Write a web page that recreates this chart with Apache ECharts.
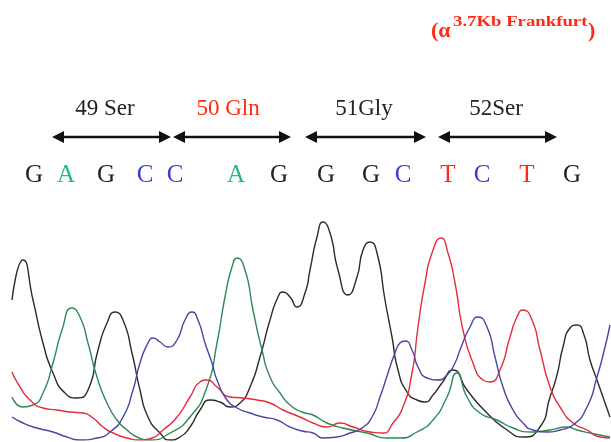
<!DOCTYPE html>
<html>
<head>
<meta charset="utf-8">
<script src="https://cdn.jsdelivr.net/npm/echarts@6/dist/echarts.min.js"></script>
<style>
html,body{margin:0;padding:0;background:#fff;}
#chart{width:611px;height:442px;}
</style>
</head>
<body>
<div id="chart"></div>
<script>
// ---- data: [scan position, signal intensity] ----
var traceG = [[12,140],[23,180],[33,140],[43,97],[53,67],[65,47],[77,42],[88,50],[98,90],[107,117],[115,128],[123,120],[132,87],[140,50],[148,23],[160,7],[170,0],[180,3],[190,13],[200,30],[210,40],[220,38],[230,33],[240,37],[250,53],[260,83],[270,120],[278,143],[283,148],[290,143],[297,133],[305,147],[310,170],[317,203],[323,218],[330,207],[338,170],[348,145],[357,163],[363,190],[370,198],[377,187],[385,140],[392,103],[398,70],[407,48],[417,40],[425,38],[433,45],[442,57],[453,70],[467,50],[487,27],[507,10],[523,3],[540,13],[550,43],[557,65],[563,93],[570,112],[577,115],[584,105],[590,80],[597,60],[604,40],[610,23]];
var traceA = [[12,43],[23,33],[33,35],[43,47],[53,77],[62,110],[72,132],[80,123],[88,97],[97,63],[107,37],[117,20],[127,10],[137,3],[150,0],[170,7],[190,23],[207,53],[217,97],[225,143],[232,173],[237,182],[245,170],[253,130],[262,90],[270,63],[280,47],[290,35],[302,28],[313,25],[327,17],[343,12],[367,7],[387,2],[400,2],[417,8],[433,20],[447,43],[457,67],[467,43],[480,27],[497,20],[513,12],[530,8],[550,10],[567,13],[577,10],[590,7],[610,3]];
var traceT = [[12,68],[20,53],[30,40],[43,32],[57,30],[70,28],[83,27],[93,22],[103,13],[113,7],[127,2],[140,0],[152,2],[163,10],[177,23],[190,43],[200,58],[207,60],[217,53],[230,43],[243,42],[257,40],[270,37],[283,30],[300,23],[313,17],[327,13],[340,17],[353,13],[370,8],[383,7],[393,17],[403,33],[412,67],[418,113],[425,157],[432,187],[441,202],[448,187],[455,157],[463,110],[473,77],[483,60],[490,58],[500,70],[510,103],[517,123],[523,130],[532,120],[540,90],[550,53],[560,33],[573,17],[587,10],[600,3],[610,2]];
var traceC = [[12,23],[23,17],[37,12],[53,8],[67,3],[80,0],[97,2],[110,8],[123,23],[133,50],[140,77],[148,97],[153,102],[160,98],[168,93],[177,100],[185,120],[192,128],[198,120],[205,97],[212,77],[217,60],[227,40],[237,32],[250,27],[263,23],[277,20],[290,13],[302,9],[313,7],[323,2],[337,3],[350,7],[362,12],[372,23],[380,43],[388,67],[395,87],[400,97],[405,99],[412,90],[418,73],[427,62],[437,60],[447,65],[455,77],[460,90],[470,113],[478,123],[487,113],[495,83],[503,53],[513,30],[523,17],[533,10],[547,8],[560,10],[573,15],[587,33],[597,63],[605,93],[610,115]];

var bases = ['G','A','G','C','C','A','G','G','G','C','T','C','T','G'];
var codons = ['49 Ser','50 Gln','51Gly','52Ser'];
var title = ['(\u03b1', '3.7Kb Frankfurt', ')'];

// ---- styling / layout ----
var baseColor = {G:'#222222', A:'#22bb88', C:'#3a3ad0', T:'#ff2a12'};
var baseX = [34,66,106,145,175,236,279,326,371,403,448,482,527,572];
var codonX = [105,228,364,496];
var codonColor = ['#222','#ff2a12','#222','#222'];
var arrowSpan = [[52,171],[173,291],[305,426],[438,557]];
var serif = '"Liberation Serif","DejaVu Serif",serif';

var graphics = [];
bases.forEach(function(b,i){
  graphics.push({type:'text', style:{text:b, x:baseX[i], y:175, fill:baseColor[b],
    font:'25px '+serif, textAlign:'center', textVerticalAlign:'middle'}});
});
codons.forEach(function(c,i){
  graphics.push({type:'text', style:{text:c, x:codonX[i], y:109, fill:codonColor[i],
    font:'23px '+serif, textAlign:'center', textVerticalAlign:'middle'}});
});
arrowSpan.forEach(function(s){
  var y=137, L=12, H=6;
  graphics.push({type:'line', shape:{x1:s[0]+4,y1:y,x2:s[1]-4,y2:y}, style:{stroke:'#111', lineWidth:2.5}});
  graphics.push({type:'polygon', shape:{points:[[s[0],y],[s[0]+L,y-H],[s[0]+L,y+H]]}, style:{fill:'#111'}});
  graphics.push({type:'polygon', shape:{points:[[s[1],y],[s[1]-L,y-H],[s[1]-L,y+H]]}, style:{fill:'#111'}});
});
graphics.push({type:'text', style:{text:title[0], x:431, y:31, fill:'#ff2a12', font:'bold 22px '+serif, textAlign:'left', textVerticalAlign:'middle'}});
graphics.push({type:'text', scaleX:1.25, x:453, y:22, style:{text:title[1], x:0, y:0, fill:'#ff2a12', font:'bold 15px '+serif, textAlign:'left', textVerticalAlign:'middle'}});
graphics.push({type:'text', style:{text:title[2], x:588, y:31, fill:'#ff2a12', font:'bold 22px '+serif, textAlign:'left', textVerticalAlign:'middle'}});

function trace(name, data, color){
  return {name:name, type:'line', data:data, smooth:0.6, showSymbol:false, symbol:'none',
    lineStyle:{color:color, width:1.4}, animation:false, silent:true};
}

var chart = echarts.init(document.getElementById('chart'));
chart.setOption({
  animation:false,
  backgroundColor:'#ffffff',
  grid:{left:0, right:0, top:0, bottom:2},
  xAxis:{type:'value', min:0, max:611, show:false},
  yAxis:{type:'value', min:0, max:440, show:false},
  series:[
    trace('G', traceG, '#2b2b2b'),
    trace('A', traceA, '#2e8a55'),
    trace('T', traceT, '#e42c3a'),
    trace('C', traceC, '#4646a6')
  ],
  graphic:graphics
});
</script>
</body>
</html>
